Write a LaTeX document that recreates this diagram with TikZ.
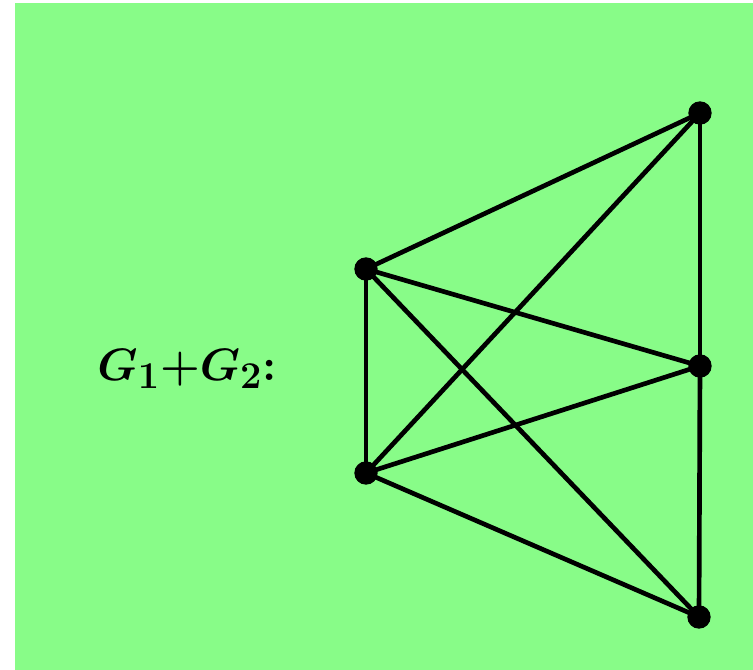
\documentclass[tikz,border=0pt]{standalone}
\usepackage{graphicx}
\usepackage{tikz}
\usetikzlibrary{positioning}
\definecolor{bggreen}{HTML}{88FC88}
\definecolor{inkblack}{HTML}{000000}
\newcommand{\biglabel}[1]{\scalebox{1.37}{\fontsize{24.88}{30}\selectfont\boldmath #1}}

\begin{document}
\begin{tikzpicture}[
      x=0.75pt, y=-0.75pt,
      vertex/.style={
        circle, fill=inkblack, inner sep=0pt,
        minimum size=17.5pt
      },
      edge/.style={line width=3.5pt, inkblack},
      label/.style={inner sep=0pt}
    ]
      \useasboundingbox (0,0) rectangle (753,670);
      \fill[white] (0,0) rectangle (753,670);
      \fill[bggreen] (15,3) rectangle (753,670);

      \node[vertex] (a) at (366,269) {};
      \node[vertex] (b) at (366,473) {};
      \node[vertex] (p) at (700,113) {};
      \node[vertex] (q) at (700,366) {};
      \node[vertex] (r) at (699,617) {};

      \draw[edge] (a.center) -- (b.center);
      \draw[edge] (p.center) -- (q.center);
      \draw[edge] (q.center) -- (r.center);
      \draw[edge] (a.center) -- (p.center);
      \draw[edge] (a.center) -- (q.center);
      \draw[edge] (a.center) -- (r.center);
      \draw[edge] (b.center) -- (p.center);
      \draw[edge] (b.center) -- (q.center);
      \draw[edge] (b.center) -- (r.center);

      \node[label] (sum) at (187,369) {\biglabel{$G_1{+}G_2$\textbf{:}}};
    \end{tikzpicture}
\end{document}
